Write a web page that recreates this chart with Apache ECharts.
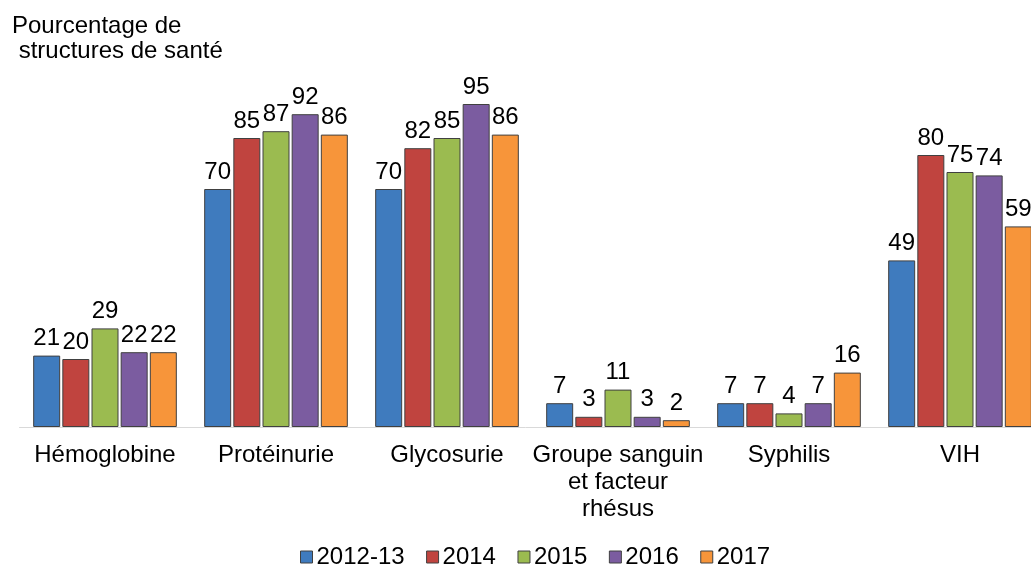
<!DOCTYPE html>
<html><head><meta charset="utf-8">
<script src="https://cdn.jsdelivr.net/npm/echarts@6/dist/echarts.min.js"></script>
<style>html,body{margin:0;padding:0;background:#fff}#c{width:1031px;height:564px}</style>
</head><body><div id="c"></div>
<script>
const categories = ['Hémoglobine', 'Protéinurie', 'Glycosurie', 'Groupe sanguin\net facteur\nrhésus', 'Syphilis', 'VIH'];
const seriesNames = ['2012-13', '2014', '2015', '2016', '2017'];
const v2012 = [21, 70, 70, 7, 7, 49];
const v2014 = [20, 85, 82, 3, 7, 80];
const v2015 = [29, 87, 85, 11, 4, 75];
const v2016 = [22, 92, 95, 3, 7, 74];
const v2017 = [22, 86, 86, 2, 16, 59];
const colors = ['#3F7BBE', '#C0443F', '#9BBB50', '#7B5CA0', '#F7953A'];
const values = [v2012, v2014, v2015, v2016, v2017];
const FONT = 'Liberation Sans, Arial, sans-serif';

const chart = echarts.init(document.getElementById('c'));
chart.setOption({
  animation: false,
  title: {
    text: 'Pourcentage de\n structures de santé',
    left: 7, top: 8.5,
    textStyle: { fontFamily: FONT, fontSize: 24, fontWeight: 'normal', color: '#000', lineHeight: 25 }
  },
  legend: {
    data: seriesNames,
    left: 300, top: 545, padding: 0,
    itemWidth: 12, itemHeight: 12, itemGap: 21.5,
    icon: 'rect',
    itemStyle: { borderColor: '#404040', borderWidth: 1 },
    textStyle: { fontFamily: FONT, fontSize: 24, lineHeight: 24, color: '#000', padding: [0, 0, 0, -1] }
  },
  grid: { left: 19.5, width: 1026, top: 87, bottom: 137, containLabel: false, outerBoundsMode: 'none' },
  xAxis: {
    type: 'category', data: categories,
    axisTick: { show: false },
    axisLine: { lineStyle: { color: '#D9D9D9', width: 1 } },
    axisLabel: { fontFamily: FONT, fontSize: 24, color: '#000', lineHeight: 27, margin: 15, interval: 0 }
  },
  yAxis: { type: 'value', min: 0, max: 100, show: false, splitLine: { show: false } },
  series: values.map((d, i) => ({
    name: seriesNames[i], type: 'bar', data: d,
    barWidth: 27, barGap: '8%',
    itemStyle: { color: colors[i], borderColor: '#404040', borderWidth: 1 },
    label: { show: true, position: 'top', distance: 5, fontFamily: FONT, fontSize: 24, color: '#000' }
  }))
});
</script></body></html>
